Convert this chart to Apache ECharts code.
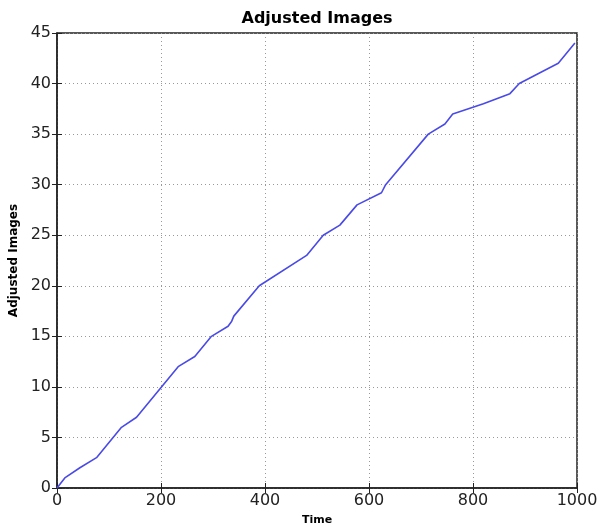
<!DOCTYPE html>
<html>
<head>
<meta charset="utf-8">
<script src="https://cdn.jsdelivr.net/npm/echarts@6/dist/echarts.min.js"></script>
<style>
  html, body { margin: 0; padding: 0; background: #fff; }
  #main { width: 600px; height: 527px; }
</style>
</head>
<body>
<div id="main"></div>
<script>
// data
const timeValues = [0, 15, 44, 76, 124, 153, 233, 265, 297, 329, 336, 340, 389, 480, 512, 544, 577, 624, 632, 714, 746, 761, 820, 871, 889, 926, 964, 996];
const imageValues = [0, 1, 2, 3, 6, 7, 12, 13, 15, 16, 16.5, 17, 20, 23, 25, 26, 28, 29.2, 30, 35, 36, 37, 38, 39, 40, 41, 42, 44];
const xTicks = [0, 200, 400, 600, 800, 1000];
const yTicks = [0, 5, 10, 15, 20, 25, 30, 35, 40, 45];

const points = timeValues.map((t, i) => [t, imageValues[i]]);

let chart = echarts.init(document.getElementById('main'), null, { renderer: 'canvas' });

const font = 'DejaVu Sans';
const gridLine = { show: true, lineStyle: { color: '#999', type: [1, 3], width: 1 } };

let option = {
  animation: false,
  backgroundColor: '#fff',
  title: {
    text: 'Adjusted Images',
    left: 312,
    top: 6,
    textAlign: 'center',
    textStyle: { fontFamily: font, fontSize: 16, fontWeight: 'bold', color: '#000' },
  },
  grid: {
    left: 57,
    right: 23,
    top: 33,
    bottom: 39,
    outerBoundsMode: 'none',
    show: true,
    borderColor: '#222',
    borderWidth: 1.5,
  },
  xAxis: [
    {
      type: 'value',
      min: 0,
      max: 1000,
      interval: 200,
      name: 'Time',
      nameLocation: 'middle',
      nameGap: 27,
      nameTextStyle: { fontFamily: font, fontSize: 11, fontWeight: 'bold', color: '#000' },
      axisLine: { show: true, lineStyle: { color: '#222', width: 1.5 } },
      axisTick: { show: true, inside: true, length: 5, lineStyle: { color: '#222' } },
      axisLabel: {
        fontFamily: font, fontSize: 16, color: '#222', margin: 5,
        formatter: v => (xTicks.includes(v) ? String(v) : ''),
      },
      splitLine: gridLine,
    },
    {
      type: 'value',
      position: 'top',
      min: 0,
      max: 1000,
      interval: 200,
      axisLine: { show: false },
      axisTick: { show: true, inside: true, length: 5, lineStyle: { color: '#222' } },
      axisLabel: { show: false },
      splitLine: { show: false },
    },
  ],
  yAxis: [
    {
      type: 'value',
      min: 0,
      max: 45,
      interval: 5,
      name: 'Adjusted Images',
      nameLocation: 'middle',
      nameGap: 37,
      nameTextStyle: { fontFamily: font, fontSize: 12, fontWeight: 'bold', color: '#000' },
      axisLine: { show: true, lineStyle: { color: '#222', width: 1.5 } },
      axisTick: { show: true, inside: true, length: 5, lineStyle: { color: '#222' } },
      axisLabel: {
        fontFamily: font, fontSize: 16, color: '#222', margin: 6,
        formatter: v => (yTicks.includes(v) ? String(v) : ''),
      },
      splitLine: gridLine,
    },
    {
      type: 'value',
      position: 'right',
      min: 0,
      max: 45,
      interval: 5,
      axisLine: { show: false },
      axisTick: { show: true, inside: true, length: 5, lineStyle: { color: '#222' } },
      axisLabel: { show: false },
      splitLine: { show: false },
    },
  ],
  series: [
    {
      type: 'line',
      data: points,
      showSymbol: false,
      lineStyle: { color: '#4a4ae6', width: 1.6 },
      z: 3,
    },
  ],
};

chart.setOption(option);
window.addEventListener('resize', chart.resize);
</script>
</body>
</html>
